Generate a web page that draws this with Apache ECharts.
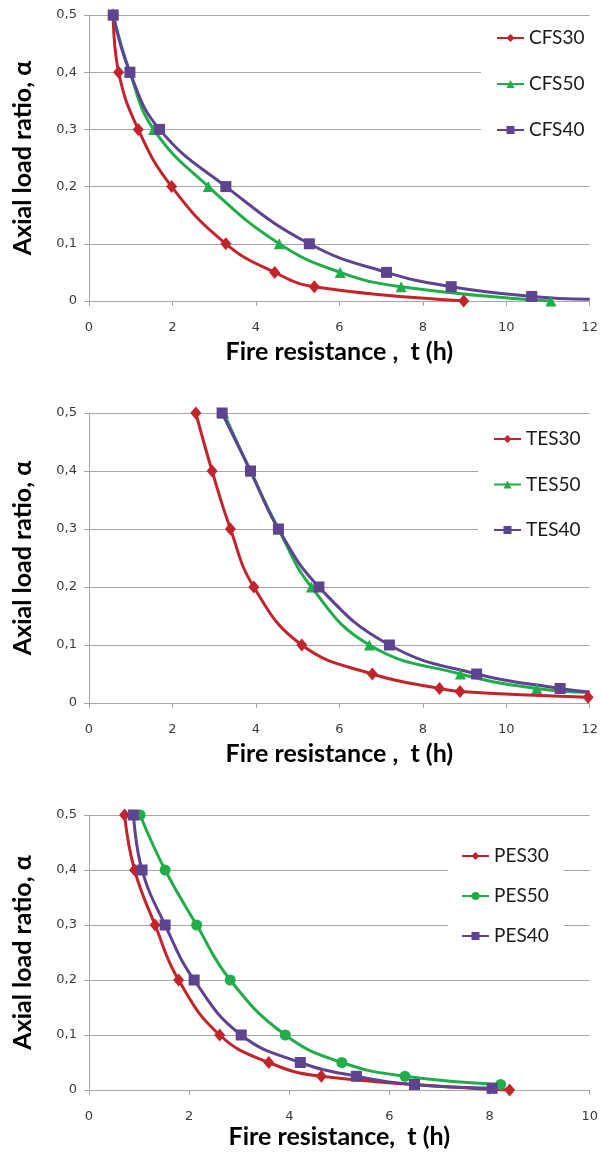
<!DOCTYPE html>
<html>
<head>
<meta charset="utf-8">
<script src="https://cdn.jsdelivr.net/npm/echarts@6/dist/echarts.min.js"></script>
<style>html,body{margin:0;padding:0;background:#fff}#c{width:601px;height:1153px}</style>
</head>
<body>
<div id="c"></div>
<script>
// ---- data (t in hours, alpha = axial load ratio) ----
const yTicks = [0, 0.1, 0.2, 0.3, 0.4, 0.5];
const xTicksTop = [0, 2, 4, 6, 8, 10, 12];
const xTicksBottom = [0, 2, 4, 6, 8, 10];

const namesCFS = ['CFS30', 'CFS50', 'CFS40'];
const CFS30 = [[0.58,0.5],[0.71,0.4],[1.18,0.3],[1.98,0.2],[3.28,0.1],[4.45,0.05],[5.40,0.025],[8.98,0]];
const CFS50 = [[0.58,0.5],[0.98,0.4],[1.55,0.3],[2.86,0.2],[4.56,0.1],[6.02,0.05],[7.48,0.025],[11.07,0]];
const CFS40 = [[0.58,0.5],[0.98,0.4],[1.69,0.3],[3.28,0.2],[5.28,0.1],[7.13,0.05],[8.68,0.025],[10.61,0.008],[12.0,0.003]];

const namesTES = ['TES30', 'TES50', 'TES40'];
const TES30 = [[2.56,0.5],[2.95,0.4],[3.39,0.3],[3.95,0.2],[5.10,0.1],[6.79,0.05],[8.40,0.025],[8.89,0.02],[11.96,0.01]];
const TES50 = [[3.23,0.5],[3.87,0.4],[4.54,0.3],[5.33,0.2],[6.72,0.1],[8.90,0.05],[10.73,0.025],[12.0,0.018]];
const TES40 = [[3.19,0.5],[3.87,0.4],[4.54,0.3],[5.51,0.2],[7.20,0.1],[9.29,0.05],[11.29,0.025],[12.0,0.019]];

const namesPES = ['PES30', 'PES50', 'PES40'];
const PES30 = [[0.71,0.5],[0.91,0.4],[1.32,0.3],[1.79,0.2],[2.61,0.1],[3.59,0.05],[4.64,0.025],[8.40,0]];
const PES50 = [[1.02,0.5],[1.52,0.4],[2.15,0.3],[2.82,0.2],[3.92,0.1],[5.05,0.05],[6.31,0.025],[8.22,0.01]];
const PES40 = [[0.89,0.5],[1.06,0.4],[1.52,0.3],[2.10,0.2],[3.04,0.1],[4.22,0.05],[5.34,0.025],[6.50,0.01],[8.05,0.003]];

// points that only continue the curve to the axis edge (no marker drawn)
const tailOnly = { CFS40: [8], TES50: [7], TES40: [7] };

const RED = '#C3242B', GREEN = '#20AD4A', PURPLE = '#5D4390';
const GRID_C = '#A6A6A6';
const TITLE_FONT = 'Lato';

function yAxisFor(i) {
  return {
    gridIndex: i, type: 'value', min: 0, max: 0.5, interval: 0.1,
    name: 'Axial load ratio, \u03b1', nameLocation: 'middle', nameGap: 54,
    nameTextStyle: { fontFamily: TITLE_FONT, fontWeight: 'bold', fontSize: 25, color: '#000' },
    axisLine: { show: true, lineStyle: { color: GRID_C, width: 1 } },
    axisTick: { show: true, length: 5, lineStyle: { color: GRID_C } },
    splitLine: { show: true, lineStyle: { color: GRID_C, width: 1 } },
    axisLabel: { fontFamily: 'DejaVu Sans', fontSize: 13, color: '#3a3a3a', margin: 12,
      formatter: v => (v === 0 ? '0' : v.toFixed(1).replace('.', ',')) }
  };
}
function xAxisFor(i, ticks, title, gap) {
  return {
    gridIndex: i, type: 'value', min: ticks[0], max: ticks[ticks.length - 1],
    interval: ticks[1] - ticks[0],
    name: title, nameLocation: 'middle', nameGap: gap,
    nameTextStyle: { fontFamily: TITLE_FONT, fontWeight: 'bold', fontSize: 25, color: '#000' },
    axisLine: { show: true, onZero: false, lineStyle: { color: GRID_C, width: 1 } },
    axisTick: { show: true, length: 5, lineStyle: { color: GRID_C } },
    splitLine: { show: false },
    axisLabel: { fontFamily: 'DejaVu Sans', fontSize: 13, color: '#3a3a3a', margin: 20 }
  };
}
function mkSeries(name, data, color, symbol, size, idx) {
  const tails = tailOnly[name] || [];
  return {
    name, type: 'line', xAxisIndex: idx, yAxisIndex: idx, smooth: 0.45,
    symbol, symbolSize: size, showSymbol: true,
    lineStyle: { color, width: 3 }, itemStyle: { color },
    data: data.map((p, k) => tails.includes(k) ? { value: p, symbol: 'none' } : p),
    z: 3
  };
}
function legendFor(names, left, top, gap, padL, padR) {
  return {
    data: names, orient: 'vertical', left, top, itemGap: gap,
    itemWidth: 27, itemHeight: 10, padding: [6, padR, 6, padL],
    backgroundColor: '#fff',
    textStyle: { fontFamily: TITLE_FONT, fontSize: 19, color: '#1a1a1a', lineHeight: 20 }
  };
}

const option = {
  animation: false,
  backgroundColor: '#fff',
  grid: [
    { left: 89, right: 8, top: 15, height: 286 },
    { left: 89, right: 8, top: 413, height: 290 },
    { left: 89, right: 9, top: 815, height: 275 }
  ],
  xAxis: [
    xAxisFor(0, xTicksTop, 'Fire resistance ,  t (h)', 38),
    xAxisFor(1, xTicksTop, 'Fire resistance ,  t (h)', 38),
    xAxisFor(2, xTicksBottom, 'Fire resistance,  t (h)', 34)
  ],
  yAxis: [yAxisFor(0), yAxisFor(1), yAxisFor(2)],
  legend: [
    legendFor(namesCFS, 481, 22, 26, 15, 30),
    legendFor(namesTES, 478, 423, 25.5, 15, 30),
    legendFor(namesPES, 448, 840, 20, 13, 15)
  ],
  series: [
    mkSeries('CFS30', CFS30, RED, 'diamond', [11, 13], 0),
    mkSeries('CFS50', CFS50, GREEN, 'triangle', 11, 0),
    mkSeries('CFS40', CFS40, PURPLE, 'rect', 11, 0),
    mkSeries('TES30', TES30, RED, 'diamond', [11, 13], 1),
    mkSeries('TES50', TES50, GREEN, 'triangle', 11, 1),
    mkSeries('TES40', TES40, PURPLE, 'rect', 11, 1),
    mkSeries('PES30', PES30, RED, 'diamond', [11, 13], 2),
    mkSeries('PES50', PES50, GREEN, 'circle', 11, 2),
    mkSeries('PES40', PES40, PURPLE, 'rect', 11, 2)
  ]
};
echarts.init(document.getElementById('c'), null, { renderer: 'canvas' }).setOption(option);
</script>
</body>
</html>
